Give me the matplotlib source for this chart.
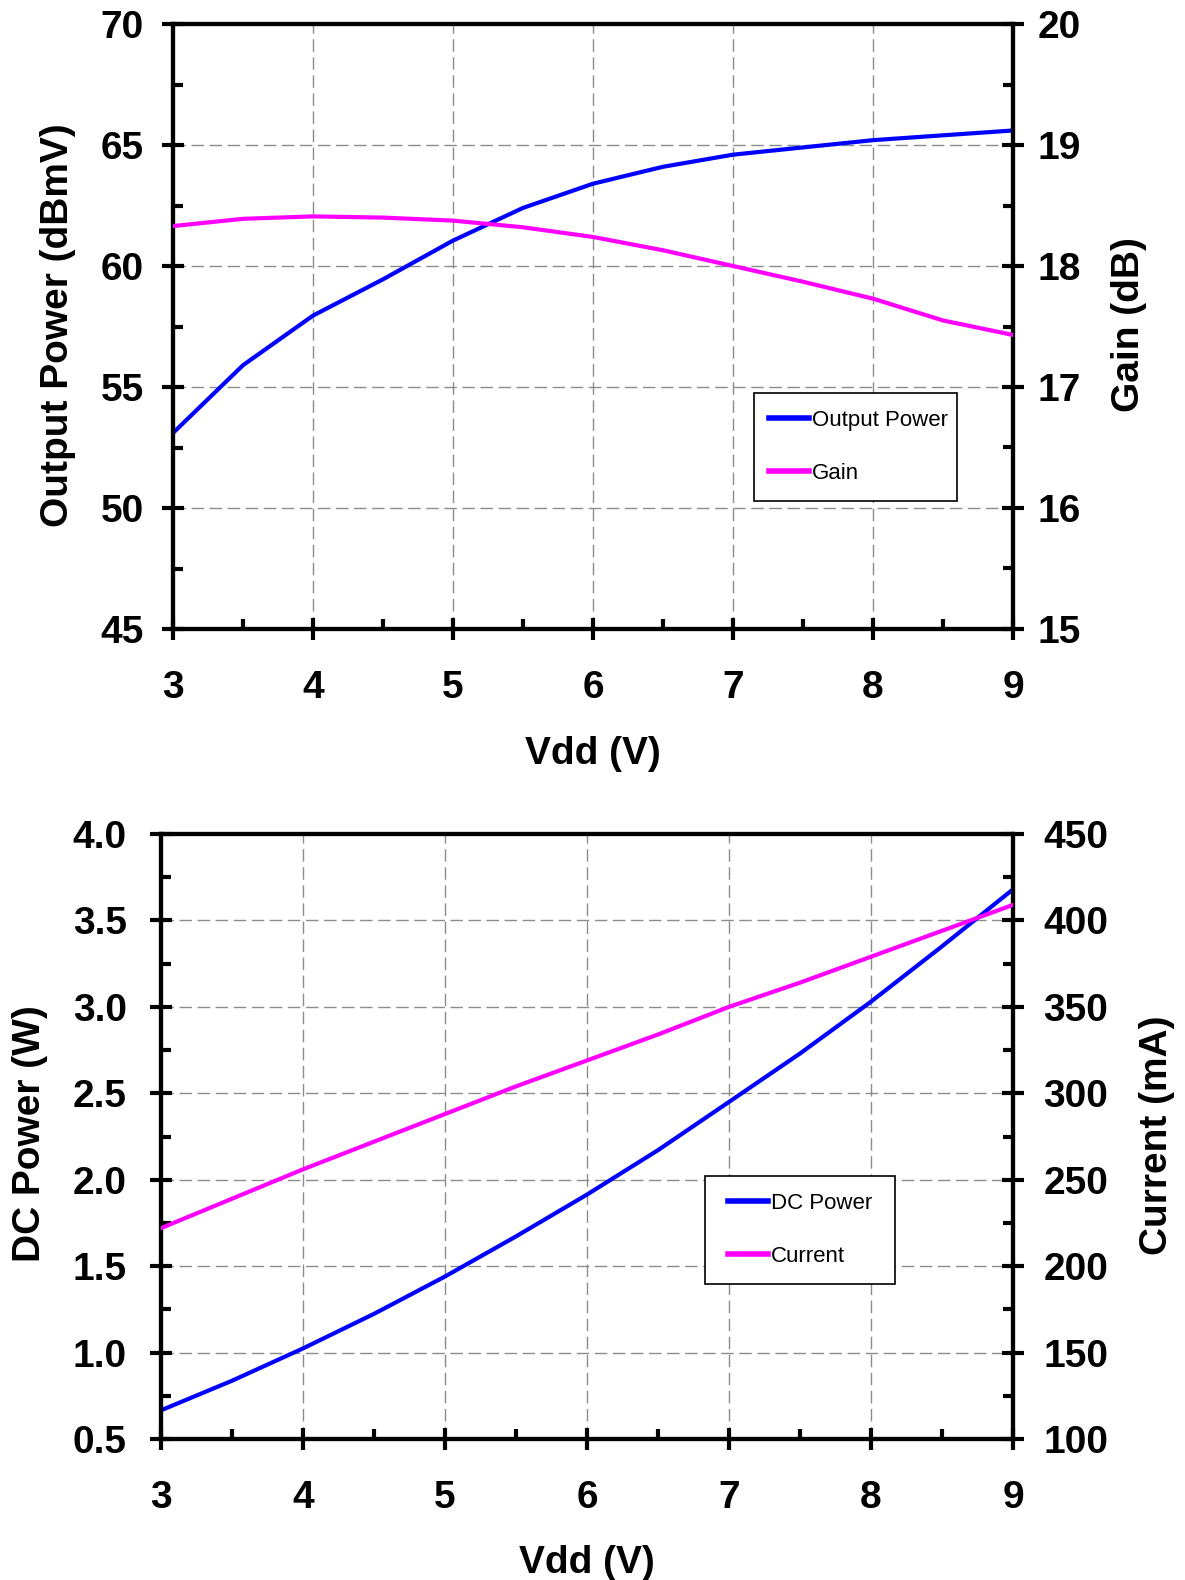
import matplotlib
matplotlib.use("Agg")
import matplotlib.pyplot as plt
from matplotlib.patches import Rectangle
from matplotlib.ticker import MultipleLocator

plt.rcParams["font.family"] = ["Liberation Sans", "DejaVu Sans"]

# Supply voltage sweep
vdd = [3.0, 3.5, 4.0, 4.5, 5.0, 5.5, 6.0, 6.5, 7.0, 7.5, 8.0, 8.5, 9.0]

# RF performance
output_power_dbmv = [53.1, 55.9, 57.95, 59.45, 61.05, 62.4, 63.4, 64.1, 64.6, 64.9, 65.2, 65.4, 65.6]
gain_db = [18.33, 18.39, 18.41, 18.40, 18.375, 18.32, 18.24, 18.13, 18.0, 17.87, 17.73, 17.55, 17.43]

# DC consumption
dc_power_w = [0.666, 0.837, 1.024, 1.224, 1.44, 1.672, 1.914, 2.171, 2.45, 2.73, 3.03, 3.35, 3.68]
current_ma = [222, 239, 256, 272, 288, 304, 319, 334, 350, 364, 379, 394, 409]

W, H = 1185, 1580
fig = plt.figure(figsize=(W / 100, H / 100), dpi=100)

BLUE = "#0000ff"
MAGENTA = "#ff00ff"
TICK_FS = 28
LABEL_FS = 28
LEGEND_FS = 16


def px_axes(left, top, right, bottom):
    return fig.add_axes([left / W, 1 - bottom / H, (right - left) / W, (bottom - top) / H])


def style(ax):
    for s in ax.spines.values():
        s.set_linewidth(3)
        s.set_color("black")
    ax.tick_params(which="major", direction="inout", length=16, width=3, labelsize=TICK_FS)
    ax.tick_params(which="minor", direction="in", length=7, width=3)
    for t in ax.get_xticklabels() + ax.get_yticklabels():
        t.set_fontweight("bold")


def label(x, y, s, rot=0):
    fig.text(x / W, 1 - y / H, s, fontsize=LABEL_FS, fontweight="bold",
             rotation=rot, ha="center", va="center")


def panel(box, y_left, y_right, lim_left, step_left, lim_right, step_right,
          fmt_left, pads, leg_labels, leg_frame, leg_anchor):
    ax = px_axes(*box)
    ax.set_xlim(3, 9)
    ax.set_ylim(*lim_left)
    ax.xaxis.set_major_locator(MultipleLocator(1))
    ax.xaxis.set_minor_locator(MultipleLocator(0.5))
    ax.yaxis.set_major_locator(MultipleLocator(step_left))
    ax.yaxis.set_minor_locator(MultipleLocator(step_left / 2))
    ax.yaxis.set_major_formatter(fmt_left)
    ax.grid(True, which="major", color="#8c8c8c", linestyle=(0, (9, 4)), linewidth=1.0)
    ax.set_axisbelow(True)

    ax2 = ax.twinx()
    ax2.set_ylim(*lim_right)
    ax2.yaxis.set_major_locator(MultipleLocator(step_right))
    ax2.yaxis.set_minor_locator(MultipleLocator(step_right / 2))

    l1, = ax.plot(vdd, y_left, color=BLUE, linewidth=3, zorder=3)
    l2, = ax2.plot(vdd, y_right, color=MAGENTA, linewidth=3, zorder=3)

    style(ax)
    style(ax2)
    ax.tick_params(axis="x", which="major", pad=pads[0])
    ax.tick_params(axis="y", which="major", pad=pads[1])
    ax2.tick_params(axis="y", which="major", pad=pads[2])

    # legend frame
    fx0, fy0, fx1, fy1 = leg_frame
    ax2.add_patch(Rectangle((fx0 / W, 1 - fy1 / H), (fx1 - fx0) / W, (fy1 - fy0) / H,
                            transform=fig.transFigure, facecolor="white",
                            edgecolor="black", linewidth=1.2, zorder=4, clip_on=False))
    ax_, ay_ = leg_anchor
    leg = ax2.legend([l1, l2], leg_labels, loc="center left",
                     bbox_to_anchor=(ax_ / W, 1 - ay_ / H),
                     bbox_transform=fig.transFigure,
                     prop={"size": LEGEND_FS}, frameon=False,
                     handlelength=1.8, handletextpad=0.12,
                     labelspacing=1.46, borderpad=0, borderaxespad=0)
    leg.set_zorder(5)
    for h in leg.get_lines():
        h.set_linewidth(4)
    return ax, ax2


# Top: output power and gain
panel((173, 24, 1013, 629), output_power_dbmv, gain_db,
      (45, 70), 5, (15, 20), 1, "{x:.0f}", (21.5, 13, 10),
      ["Output Power", "Gain"], (754, 393, 957, 501), (769, 447))
label(58, 325, "Output Power (dBmV)", 90)
label(1129, 325, "Gain (dB)", 90)
label(593, 754, "Vdd (V)")

# Bottom: DC power and current
panel((161, 834, 1013, 1439), dc_power_w, current_ma,
      (0.5, 4.0), 0.5, (100, 450), 50, "{x:.1f}", (21.5, 16.5, 14),
      ["DC Power", "Current"], (705, 1176, 895, 1284), (728, 1230))
label(30, 1134, "DC Power (W)", 90)
label(1157, 1135, "Current (mA)", 90)
label(587, 1563, "Vdd (V)")

fig.savefig("out.png", dpi=100)
